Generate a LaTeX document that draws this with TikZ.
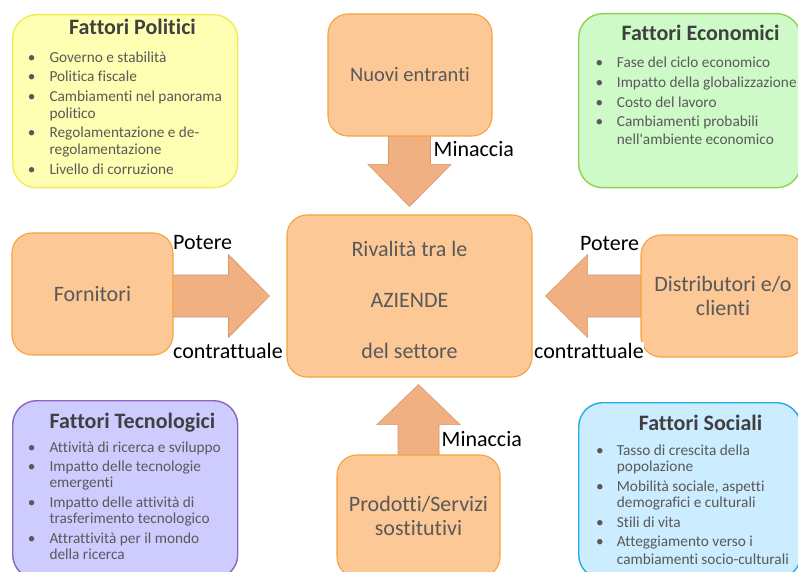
\documentclass[tikz,border=0pt]{standalone}
\usepackage{fontspec}
\setmainfont{Carlito}[Ligatures={TeX,NoCommon}]
\usetikzlibrary{calc,backgrounds}

\definecolor{bodygray}{RGB}{89,89,89}
\definecolor{titlegray}{RGB}{64,64,64}
\definecolor{polfill}{RGB}{255,255,180}
\definecolor{polline}{RGB}{242,234,80}
\definecolor{ecofill}{RGB}{206,250,200}
\definecolor{ecoline}{RGB}{146,208,80}
\definecolor{tecfill}{RGB}{206,204,255}
\definecolor{tecline}{RGB}{140,100,190}
\definecolor{socfill}{RGB}{204,236,255}
\definecolor{socline}{RGB}{40,170,230}
\definecolor{boxfill}{RGB}{252,200,150}
\definecolor{boxline}{RGB}{247,162,60}
\definecolor{arrowfill}{RGB}{241,176,130}
\definecolor{arrowline}{RGB}{214,150,110}

\tikzset{
  factor/.style={draw, line width=1.4pt, rounded corners=24pt, anchor=north west,
    inner sep=0pt},
  forcebox/.style={draw=boxline, fill=boxfill, line width=1.1pt, rounded corners=20pt,
    text=bodygray, font=\fontsize{22}{24.5}\selectfont, align=center, inner sep=0pt},
  factortitle/.style={anchor=base, font=\fontsize{22}{26}\selectfont\bfseries,
    text=titlegray, inner sep=0pt},
  itemline/.style={anchor=base west, font=\fontsize{15.3}{18}\selectfont,
    text=bodygray, inner sep=0pt},
  bulletmark/.style={anchor=base, font=\fontsize{15.3}{18}\selectfont,
    text=bodygray, inner sep=0pt},
  flowlabel/.style={anchor=base west, font=\fontsize{22}{26}\selectfont,
    text=black, inner sep=0.5pt, fill=white},
  blockarrow/.style={fill=arrowfill, draw=arrowline, line width=0.6pt, line join=miter}
}

\begin{document}
\begin{tikzpicture}[x=1pt,y=-1pt]
\useasboundingbox (0,0) rectangle (798,572);
\clip (0,0) rectangle (798,572);

% ---- the four PEST boxes ----
\node[factor, draw=polline, fill=polfill, minimum width=225pt, minimum height=173pt]
  (polBox) at (12,14) {};
\node[factor, draw=ecoline, fill=ecofill, minimum width=222pt, minimum height=174pt]
  (ecoBox) at (578,13) {};
\node[factor, draw=tecline, fill=tecfill, minimum width=225pt, minimum height=178pt]
  (tecBox) at (12,400) {};
\node[factor, draw=socline, fill=socfill, minimum width=222pt, minimum height=176pt]
  (socBox) at (578,402) {};

\node[factortitle] (polTitle) at (132.5,35) {Fattori Politici};
\node[factortitle] (ecoTitle) at (700.5,41) {Fattori Economici};
\node[factortitle] (tecTitle) at (132.5,428) {Fattori Tecnologici};
\node[factortitle] (socTitle) at (700.5,430) {Fattori Sociali};

% bullet lists: baseline / bullet flag / text
\foreach \yy/\bb/\txt [count=\k] in {
    63/1/Governo e stabilità,
    82/1/Politica fiscale,
    101.5/1/Cambiamenti nel panorama,
    119/0/politico,
    137.5/1/Regolamentazione e de-,
    155/0/regolamentazione,
    175/1/Livello di corruzione}{
  \node[itemline] (pol-\k) at (49.3,\yy) {\txt};
  \ifnum\bb=1 \node[bulletmark] (polb-\k) at (31.7,\yy) {•};\fi
}
\foreach \yy/\bb/\txt [count=\k] in {
    68/1/Fase del ciclo economico,
    88/1/Impatto della globalizzazione,
    107.5/1/Costo del lavoro,
    127/1/Cambiamenti probabili,
    145/0/nell\textquotesingle ambiente economico}{
  \node[itemline] (eco-\k) at (616.7,\yy) {\txt};
  \ifnum\bb=1 \node[bulletmark] (ecob-\k) at (599.5,\yy) {•};\fi
}
\foreach \yy/\bb/\txt [count=\k] in {
    452/1/Attività di ricerca e sviluppo,
    471/1/Impatto delle tecnologie,
    487/0/emergenti,
    507/1/Impatto delle attività di,
    523/0/trasferimento tecnologico,
    543/1/Attrattività per il mondo,
    559/0/della ricerca}{
  \node[itemline] (tec-\k) at (49.3,\yy) {\txt};
  \ifnum\bb=1 \node[bulletmark] (tecb-\k) at (31.7,\yy) {•};\fi
}
\foreach \yy/\bb/\txt [count=\k] in {
    455/1/Tasso di crescita della,
    471/0/popolazione,
    491/1/{Mobilità sociale, aspetti},
    507/0/demografici e culturali,
    527/1/Stili di vita,
    546/1/Atteggiamento verso i,
    564/0/cambiamenti socio-culturali}{
  \node[itemline] (soc-\k) at (616.7,\yy) {\txt};
  \ifnum\bb=1 \node[bulletmark] (socb-\k) at (600,\yy) {•};\fi
}

% ---- the five forces ----
\node[forcebox, minimum width=245pt, minimum height=162pt, font=\fontsize{22}{51}\selectfont]
  (central) at (409.5,296) {\rule{0pt}{24pt}Rivalità tra le\\AZIENDE\\del settore};
\node[forcebox, minimum width=164pt, minimum height=122pt, font=\fontsize{20.5}{24}\selectfont]
  (nuovi) at (410,75) {Nuovi entranti};
\node[forcebox, minimum width=161pt, minimum height=122pt]
  (fornitori) at (92.5,294) {Fornitori};
\node[forcebox, minimum width=164pt, minimum height=122pt]
  (distrib) at (723,296) {Distributori e/o\\clienti};
\node[forcebox, minimum width=163pt, minimum height=122pt]
  (prodotti) at (418.5,516) {Prodotti/Servizi\\sostitutivi};

% ---- block arrows, kept behind the boxes ----
\coordinate (dT) at ($(central.north)+(0,-8)$);
\coordinate (dS) at ($(nuovi.south -| dT)+(0,-3)$);
\coordinate (rT) at ($(central.west)+(-17,0)$);
\coordinate (rS) at ($(fornitori.east |- rT)+(-3,0)$);
\coordinate (lT) at ($(central.east)+(13,0)$);
\coordinate (lS) at ($(distrib.west |- lT)+(3,0)$);
\coordinate (uT) at ($(prodotti.north |- central.south)+(0,7)$);
\coordinate (uS) at ($(prodotti.north)+(0,3)$);

\begin{pgfonlayer}{background}
  \fill[white] (0,0) rectangle (798,572);
  \draw[blockarrow] ($(dS)+(-21,0)$) -- ($(dT)+(-21,-42)$) -- ($(dT)+(-41.5,-42)$)
    -- (dT) -- ($(dT)+(41.5,-42)$) -- ($(dT)+(21,-42)$) -- ($(dS)+(21,0)$) -- cycle;
  \draw[blockarrow] ($(rS)+(0,-21)$) -- ($(rT)+(-41,-21)$) -- ($(rT)+(-41,-41.5)$)
    -- (rT) -- ($(rT)+(-41,41.5)$) -- ($(rT)+(-41,21)$) -- ($(rS)+(0,21)$) -- cycle;
  \draw[blockarrow] ($(lS)+(0,-21)$) -- ($(lT)+(42,-21)$) -- ($(lT)+(42,-41.5)$)
    -- (lT) -- ($(lT)+(42,41.5)$) -- ($(lT)+(42,21)$) -- ($(lS)+(0,21)$) -- cycle;
  \draw[blockarrow] ($(uS)+(-20.5,0)$) -- ($(uT)+(-20.5,40)$) -- ($(uT)+(-41.5,40)$)
    -- (uT) -- ($(uT)+(41.5,40)$) -- ($(uT)+(20.5,40)$) -- ($(uS)+(20.5,0)$) -- cycle;
\end{pgfonlayer}

% ---- arrow labels ----
\node[flowlabel] (minTop) at (433,156.5) {Minaccia};
\node[flowlabel] (minBot) at (441,446.5) {Minaccia};
\node[flowlabel] (potL) at (172.5,250) {Potere};
\node[flowlabel] (conL) at (172.5,358) {contrattuale};
\node[flowlabel] (potR) at (579.5,250.5) {Potere};
\node[flowlabel] (conR) at (533.5,358) {contrattuale};
\end{tikzpicture}
\end{document}
